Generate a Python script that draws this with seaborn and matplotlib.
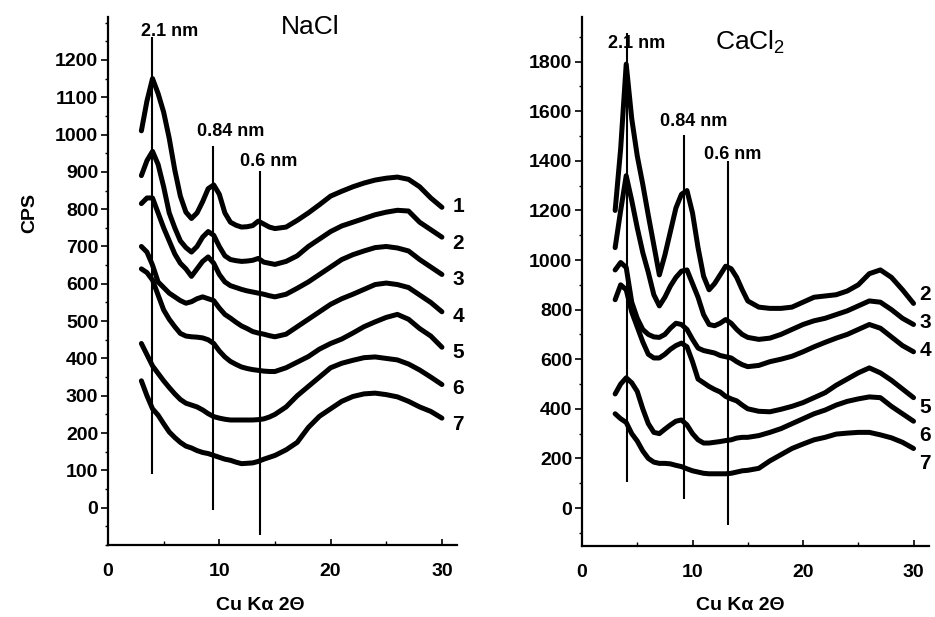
import numpy as np
import pandas as pd
import matplotlib
matplotlib.use("Agg")
import matplotlib.pyplot as plt
from matplotlib.ticker import MultipleLocator
import seaborn as sns

# ---------------- data ----------------
two_theta = [3, 3.5, 4, 4.5, 5, 5.5, 6, 6.5, 7, 7.5, 8, 8.5, 9, 9.5, 10, 10.5,
             11, 11.5, 12, 12.5, 13, 13.5, 14, 14.5, 15,
             16, 17, 18, 19, 20, 21, 22, 23, 24, 25, 26, 27, 28, 29, 30]

nacl_labels = ["1", "2", "3", "4", "5", "6", "7"]
nacl_1 = [1010, 1090, 1150, 1110, 1060, 990, 905, 835, 792, 775, 790, 820, 855, 865, 840, 790,
          765, 757, 752, 753, 756, 768, 760, 752, 748,
          752, 770, 790, 812, 835, 848, 860, 870, 878, 883, 886, 880, 860, 830, 805]
nacl_2 = [890, 930, 955, 920, 860, 790, 750, 715, 697, 685, 700, 725, 740, 730, 700, 675,
          665, 662, 660, 661, 663, 668, 658, 655, 652,
          660, 675, 700, 720, 740, 755, 765, 775, 785, 792, 797, 795, 765, 745, 725]
nacl_3 = [815, 830, 830, 790, 750, 715, 680, 655, 640, 620, 640, 660, 672, 655, 625, 605,
          595, 590, 585, 581, 578, 575, 572, 568, 565,
          572, 588, 605, 625, 645, 665, 678, 688, 697, 700, 696, 688, 665, 645, 625]
nacl_4 = [700, 685, 650, 605, 590, 575, 565, 555, 548, 552, 560, 565, 560, 555, 535, 518,
          508, 497, 487, 480, 472, 468, 465, 461, 458,
          465, 485, 505, 525, 545, 560, 572, 585, 598, 602, 598, 590, 570, 550, 525]
nacl_5 = [640, 630, 610, 570, 530, 505, 485, 467, 460, 458, 457, 455, 450, 440, 420, 404,
          392, 384, 377, 373, 370, 368, 366, 365, 365,
          375, 390, 405, 425, 440, 452, 468, 485, 498, 510, 518, 505, 480, 460, 430]
nacl_6 = [440, 410, 380, 360, 340, 322, 305, 290, 280, 275, 270, 262, 252, 244, 240, 237,
          235, 235, 235, 235, 235, 236, 238, 243, 250,
          270, 300, 325, 350, 375, 387, 395, 402, 404, 400, 396, 385, 369, 350, 330]
nacl_7 = [340, 300, 265, 248, 225, 203, 188, 175, 165, 160, 153, 148, 145, 140, 135, 130,
          127, 122, 118, 119, 120, 124, 130, 135, 140,
          155, 175, 215, 245, 265, 285, 298, 305, 307, 303, 297, 285, 270, 258, 240]

cacl_labels = ["2", "3", "4", "5", "6", "7"]
cacl_2 = [1200, 1450, 1790, 1570, 1420, 1305, 1180, 1060, 940, 1020, 1115, 1210, 1265, 1280, 1190, 1050,
          935, 880, 905, 940, 975, 965, 930, 880, 835,
          810, 805, 805, 810, 830, 850, 855, 860, 875, 900, 945, 960, 930, 880, 825]
cacl_3 = [1050, 1200, 1340, 1240, 1130, 1030, 950, 860, 815, 850, 895, 930, 955, 960, 905, 850,
          780, 740, 735, 745, 760, 745, 720, 700, 688,
          680, 685, 700, 720, 740, 755, 765, 780, 795, 815, 835, 830, 800, 765, 740]
cacl_4 = [960, 990, 970, 830, 765, 720, 700, 690, 688, 700, 725, 745, 740, 720, 680, 645,
          635, 630, 625, 615, 610, 605, 590, 578, 570,
          575, 590, 600, 612, 630, 650, 668, 685, 700, 720, 740, 725, 690, 655, 630]
cacl_5 = [840, 900, 880, 790, 730, 670, 620, 605, 605, 620, 640, 655, 665, 650, 590, 520,
          505, 490, 478, 468, 450, 440, 432, 415, 400,
          390, 388, 398, 410, 425, 445, 465, 495, 520, 545, 565, 545, 515, 480, 445]
cacl_6 = [460, 500, 525, 505, 470, 400, 340, 305, 300, 318, 335, 350, 355, 335, 300, 275,
          262, 262, 265, 268, 272, 275, 282, 285, 285,
          292, 305, 320, 340, 360, 380, 395, 415, 430, 440, 448, 445, 410, 380, 350]
cacl_7 = [380, 360, 345, 300, 270, 230, 200, 185, 180, 180, 178, 172, 167, 158, 150, 145,
          140, 138, 138, 138, 138, 140, 145, 150, 152,
          160, 190, 215, 240, 258, 275, 285, 298, 302, 305, 305, 295, 283, 265, 240]

# peak marker lines
nacl_marks = ["2.1 nm", "0.84 nm", "0.6 nm"]
nacl_mark_x = [3.95, 9.46, 13.67]
nacl_mark_lo = [90, -5, -73]
nacl_mark_hi = [1262, 970, 902]
nacl_mark_tx = [5.5, 11.05, 14.45]
nacl_mark_ty = [1275, 1007, 927]
nacl_num_y = [806, 708, 612, 513, 417, 320, 224]

cacl_marks = ["2.1 nm", "0.84 nm", "0.6 nm"]
cacl_mark_x = [4.1, 9.26, 13.24]
cacl_mark_lo = [106, 35, -69]
cacl_mark_hi = [1915, 1504, 1399]
cacl_mark_tx = [4.9, 10.1, 13.66]
cacl_mark_ty = [1875, 1560, 1427]
cacl_num_y = [859, 750, 637, 407, 294, 181]

# ---------------- style ----------------
sns.set_theme(style="white")
plt.rcParams["font.family"] = ["Liberation Sans", "DejaVu Sans"]
plt.rcParams["mathtext.fontset"] = "custom"
plt.rcParams["mathtext.rm"] = "Liberation Sans"
plt.rcParams["mathtext.it"] = "Liberation Sans:italic"
plt.rcParams["mathtext.bf"] = "Liberation Sans:bold"
plt.rcParams["text.color"] = "black"
plt.rcParams["axes.labelcolor"] = "black"
plt.rcParams["xtick.color"] = "black"
plt.rcParams["ytick.color"] = "black"

fig = plt.figure(figsize=(9.35, 6.17), dpi=100)
axL = fig.add_axes([108 / 935, 1 - 545 / 617, 349.5 / 935, 528 / 617])
axR = fig.add_axes([582 / 935, 1 - 545.7 / 617, 347 / 935, 528.7 / 617])


def long_df(labels, series):
    rows = []
    for lab, ys in zip(labels, series):
        for x, y in zip(two_theta, ys):
            rows.append({"two_theta": x, "cps": y, "curve": lab})
    return pd.DataFrame(rows)


dfL = long_df(nacl_labels, [nacl_1, nacl_2, nacl_3, nacl_4, nacl_5, nacl_6, nacl_7])
dfR = long_df(cacl_labels, [cacl_2, cacl_3, cacl_4, cacl_5, cacl_6, cacl_7])

for ax, df, labs in [(axL, dfL, nacl_labels), (axR, dfR, cacl_labels)]:
    sns.lineplot(data=df, x="two_theta", y="cps", hue="curve", hue_order=labs,
                 palette=["black"] * len(labs), legend=False, linewidth=3.6, ax=ax,
                 estimator=None, sort=True)

axL.set_xlim(0, 31.4)
axL.set_ylim(-100, 1315)
axR.set_xlim(0, 31.4)
axR.set_ylim(-152, 1980)

axL.yaxis.set_major_locator(MultipleLocator(100))
axL.yaxis.set_minor_locator(MultipleLocator(50))
axR.yaxis.set_major_locator(MultipleLocator(200))
axR.yaxis.set_minor_locator(MultipleLocator(100))

for ax in (axL, axR):
    ax.xaxis.set_major_locator(MultipleLocator(10))
    ax.xaxis.set_minor_locator(MultipleLocator(5))
    ax.set_xlabel("")
    ax.set_ylabel("")
    for s in ("top", "right"):
        ax.spines[s].set_visible(False)
    for s in ("left", "bottom"):
        ax.spines[s].set_linewidth(1.6)
        ax.spines[s].set_color("black")
    ax.tick_params(axis="x", which="major", direction="in", length=4, width=1.2,
                   pad=13, labelsize=14, colors="black")
    ax.tick_params(axis="x", which="minor", direction="in", length=3, width=1.0,
                   colors="black")
    ax.tick_params(axis="y", which="major", direction="out", length=5, width=1.2,
                   pad=2, labelsize=14, colors="black")
    ax.tick_params(axis="y", which="minor", direction="out", length=2.5, width=1.0,
                   colors="black")
    ax.tick_params(left=True, bottom=True, which="both")
    ax.set_facecolor("white")

axL.set_yticks([t for t in range(0, 1300, 100)])
axR.set_yticks([t for t in range(0, 1900, 200)])
for ax in (axL, axR):
    for lab in ax.get_xticklabels() + ax.get_yticklabels():
        lab.set_fontweight("bold")
        lab.set_fontsize(14)
        lab.set_color("black")

# markers
for ax, names, mx, lo, hi, tx, ty in [
        (axL, nacl_marks, nacl_mark_x, nacl_mark_lo, nacl_mark_hi, nacl_mark_tx, nacl_mark_ty),
        (axR, cacl_marks, cacl_mark_x, cacl_mark_lo, cacl_mark_hi, cacl_mark_tx, cacl_mark_ty)]:
    ax.vlines(mx, lo, hi, colors="black", linewidth=1.5, clip_on=False)
    for n, x, y in zip(names, tx, ty):
        ax.text(x, y, n, ha="center", va="center", fontsize=13, fontweight="bold",
                color="black", clip_on=False)

for lab, y in zip(nacl_labels, nacl_num_y):
    axL.text(31.45, y, lab, ha="center", va="center", fontsize=15, fontweight="bold",
             color="black", clip_on=False)
for lab, y in zip(cacl_labels, cacl_num_y):
    axR.text(31.05, y, lab, ha="center", va="center", fontsize=15, fontweight="bold",
             color="black", clip_on=False)

# titles and axis labels
fig.text(310 / 935, 1 - 27 / 617, "NaCl", ha="center", va="center", fontsize=19,
         color="black")
fig.text(750 / 935, 1 - 42 / 617, "CaCl$_2$", ha="center", va="center", fontsize=19,
         color="black")
fig.text(30 / 935, 1 - 213 / 617, "CPS", ha="center", va="center", rotation=90,
         fontsize=14, fontweight="bold", color="black")
fig.text(260 / 935, 1 - 605 / 617, "Cu K\u03b1 2\u0398", ha="center", va="center",
         fontsize=14, fontweight="bold", color="black")
fig.text(740 / 935, 1 - 605 / 617, "Cu K\u03b1 2\u0398", ha="center", va="center",
         fontsize=14, fontweight="bold", color="black")

fig.savefig("out.png", dpi=100, facecolor="white")
